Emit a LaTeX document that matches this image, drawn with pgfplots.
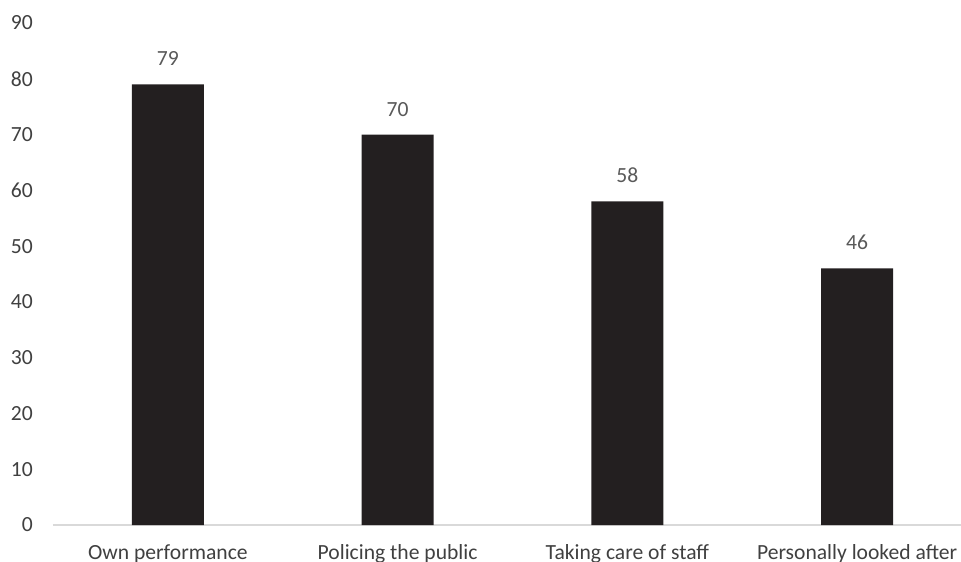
\documentclass[border=0pt]{standalone}
\usepackage{pgfplots}
\pgfplotsset{compat=1.18}
\usepackage{fontspec}
\setmainfont{Carlito}
\definecolor{barc}{HTML}{231F20}
\definecolor{valc}{HTML}{595959}
\definecolor{tickc}{HTML}{404040}
\definecolor{basec}{HTML}{D9D9D9}
\begin{document}
\begin{tikzpicture}[font=\fontsize{16.2}{19}\selectfont]
\begin{axis}[
  at={(0,0)}, anchor=south west,
  scale only axis,
  width=689.25pt, height=376.5pt,
  xmin=-0.5, xmax=3.5,
  ymin=0, ymax=90,
  ytick={0,10,...,90},
  xtick=data,
  xticklabels={Own performance, Policing the public, Taking care of staff, Personally looked after},
  axis x line=bottom, axis y line=left,
  x axis line style={-, draw=basec, line width=0.9pt},
  y axis line style={draw=none},
  major tick length=0pt,
  /pgf/number format/assume math mode=true,
  yticklabel style={anchor=east, inner sep=0pt, xshift=-15pt, text=tickc},
  xticklabel style={anchor=base, inner sep=0pt, yshift=-26pt, text=tickc},
  ybar, bar width=54pt,
  nodes near coords,
  nodes near coords style={anchor=base, inner sep=0pt, yshift=13.9pt, text=valc},
  clip=false,
]
\addplot[fill=barc, draw=none] coordinates {(0,79) (1,70) (2,58) (3,46)};
\end{axis}
\pgfresetboundingbox
\path[use as bounding box] (-39.75pt,-27pt) rectangle (681pt,393.75pt);
\end{tikzpicture}
\end{document}
